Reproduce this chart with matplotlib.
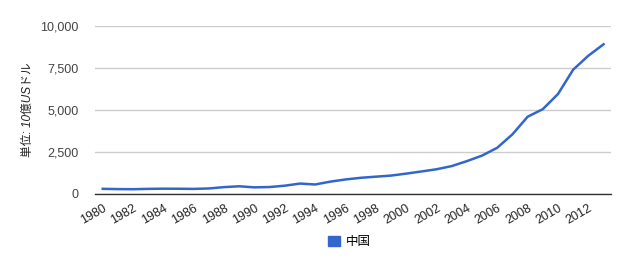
import matplotlib
matplotlib.use("Agg")
import matplotlib.pyplot as plt
from matplotlib.patches import Patch
from matplotlib.ticker import FuncFormatter

years = list(range(1980, 2014))
gdp = [305, 289, 283, 303, 314, 310, 301, 327, 408, 457,
       393, 413, 493, 619, 564, 734, 863, 962, 1029, 1094,
       1211, 1339, 1471, 1660, 1955, 2286, 2752, 3552, 4598, 5050,
       5950, 7400, 8230, 8910]
series_name = "中国"
y_label = "単位: 10億USドル"
y_ticks = [0, 2500, 5000, 7500, 10000]
x_tick_years = list(range(1980, 2014, 2))

plt.rcParams['font.family'] = ['Liberation Sans', 'Noto Sans CJK JP', 'DejaVu Sans']

fig = plt.figure(figsize=(6.3, 2.6), dpi=100)
ax = fig.add_axes([0.151, 0.254, 0.819, 0.646])

ax.plot(years, gdp, color='#3366cc', linewidth=1.8)
ax.set_xlim(years[0] - 0.5, years[-1] + 0.5)
ax.set_ylim(0, 10000)
ax.set_yticks(y_ticks)
ax.yaxis.set_major_formatter(FuncFormatter(lambda v, p: f"{int(v):,}"))
ax.set_xticks(x_tick_years)
ax.set_xticklabels([str(y) for y in x_tick_years], rotation=30, ha='right',
                   rotation_mode='anchor')
ax.grid(axis='y', color='#cccccc', linewidth=1)
ax.set_axisbelow(True)
for s in ['top', 'right', 'left']:
    ax.spines[s].set_visible(False)
ax.spines['bottom'].set_color('#333333')
ax.spines['bottom'].set_linewidth(1)
ax.tick_params(axis='both', length=0, labelsize=9, colors='#222222')
ax.tick_params(axis='y', pad=12, colors='#444444')
ax.tick_params(axis='x', pad=6)
ax.set_ylabel(y_label, fontsize=8.5, style='italic', color='#222222', labelpad=16)
ax.yaxis.set_label_coords(-0.118, 0.5)

fig.legend(handles=[Patch(facecolor='#3366cc', edgecolor='#3366cc', label=series_name)],
           loc='center', bbox_to_anchor=(0.555, 0.07), frameon=False,
           fontsize=9, handlelength=0.9, handleheight=0.9, handletextpad=0.5)

fig.savefig('out.png', dpi=100)
